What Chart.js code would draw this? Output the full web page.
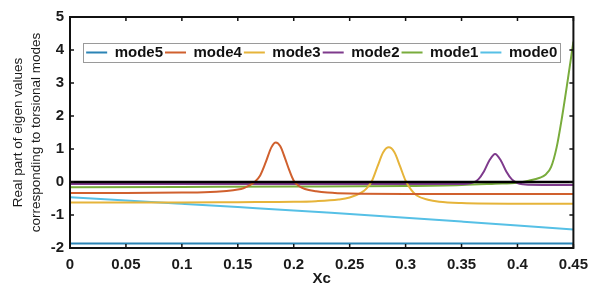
<!DOCTYPE html>
<html>
<head>
<meta charset="utf-8">
<script src="https://cdn.jsdelivr.net/npm/chart.js@4/dist/chart.umd.min.js"></script>
<style>
  html, body { margin: 0; padding: 0; background: #fff; }
  #wrap { width: 596px; height: 283px; }
</style>
</head>
<body>
<div id="wrap"><canvas id="canvasModes"></canvas></div>
<script>
// axis ticks
const xTicks = [0, 0.05, 0.1, 0.15, 0.2, 0.25, 0.3, 0.35, 0.4, 0.45];
const xTickLabels = ['0', '0.05', '0.1', '0.15', '0.2', '0.25', '0.3', '0.35', '0.4', '0.45'];
const yTicks = [-2, -1, 0, 1, 2, 3, 4, 5];

// series (Xc, real part)
const mode5X = [0, 0.15, 0.3, 0.45];
const mode5Y = [-1.86, -1.86, -1.86, -1.86];

const mode4X = [0, 0.05, 0.1, 0.12, 0.14, 0.15, 0.155, 0.16, 0.165, 0.17, 0.175, 0.18, 0.184, 0.188, 0.192, 0.196, 0.2, 0.205, 0.21, 0.22, 0.23, 0.25, 0.3, 0.35, 0.4, 0.45];
const mode4Y = [-0.33, -0.33, -0.32, -0.31, -0.27, -0.23, -0.19, -0.11, 0.0, 0.2, 0.6, 1.05, 1.2, 1.08, 0.74, 0.36, 0.04, -0.13, -0.21, -0.28, -0.32, -0.35, -0.36, -0.36, -0.36, -0.36];

const mode3X = [0, 0.1, 0.15, 0.2, 0.22, 0.24, 0.25, 0.26, 0.265, 0.27, 0.275, 0.28, 0.285, 0.29, 0.295, 0.3, 0.305, 0.31, 0.32, 0.33, 0.35, 0.4, 0.45];
const mode3Y = [-0.62, -0.62, -0.61, -0.6, -0.58, -0.53, -0.47, -0.33, -0.2, 0.04, 0.48, 0.9, 1.05, 0.9, 0.48, 0.04, -0.24, -0.41, -0.54, -0.6, -0.64, -0.66, -0.66];

const mode2X = [0, 0.1, 0.2, 0.3, 0.34, 0.355, 0.36, 0.365, 0.37, 0.375, 0.38, 0.385, 0.39, 0.395, 0.4, 0.405, 0.41, 0.45];
const mode2Y = [-0.06, -0.06, -0.06, -0.06, -0.06, -0.05, -0.02, 0.08, 0.32, 0.66, 0.85, 0.66, 0.32, 0.08, -0.03, -0.07, -0.08, -0.09];

const mode1X = [0, 0.1, 0.2, 0.3, 0.35, 0.38, 0.4, 0.41, 0.42, 0.425, 0.43, 0.435, 0.44, 0.445, 0.45];
const mode1Y = [-0.16, -0.15, -0.14, -0.12, -0.09, -0.05, -0.02, 0.04, 0.13, 0.22, 0.45, 1.05, 2.0, 3.1, 4.25];

const mode0X = [0, 0.05, 0.1, 0.15, 0.2, 0.25, 0.3, 0.35, 0.4, 0.45];
const mode0Y = [-0.46, -0.56, -0.66, -0.76, -0.86, -0.97, -1.08, -1.2, -1.32, -1.44];

const zeroX = [0, 0.45];
const zeroY = [0, 0];

const toPoints = (xs, ys) => xs.map((x, i) => ({ x: x, y: ys[i] }));

const line = (label, xs, ys, color, width) => ({
    label: label,
    data: toPoints(xs, ys),
    borderColor: color,
    backgroundColor: color,
    borderWidth: width,
    pointRadius: 0,
    cubicInterpolationMode: 'monotone',
});

// box around the plot with inward ticks, MATLAB style + legend frame
const framePlugin = {
    id: 'frame',
    afterLayout(chart) {
        // legend sits inside the axes, like the original
        const lg = chart.legend;
        lg.top = 43;
        lg.bottom = 62;
    },
    afterDraw(chart) {
        const { ctx, chartArea: a, scales } = chart;
        ctx.save();
        ctx.strokeStyle = '#111';
        ctx.lineWidth = 1.5;
        const t = 4;
        ctx.beginPath();
        scales.x.ticks.forEach(tk => {
            const px = scales.x.getPixelForValue(tk.value);
            ctx.moveTo(px, a.bottom); ctx.lineTo(px, a.bottom - t);
            ctx.moveTo(px, a.top); ctx.lineTo(px, a.top + t);
        });
        scales.y.ticks.forEach(tk => {
            const py = scales.y.getPixelForValue(tk.value);
            ctx.moveTo(a.left, py); ctx.lineTo(a.left + t, py);
            ctx.moveTo(a.right, py); ctx.lineTo(a.right - t, py);
        });
        ctx.stroke();
        ctx.lineWidth = 2;
        ctx.strokeRect(a.left, a.top, a.right - a.left, a.bottom - a.top);

        // legend frame
        const lg = chart.legend;
        const pad = lg.options.labels.padding;
        const startX = (lg.left + pad + lg.right - lg.lineWidths[0]) / 2;
        const w = lg.lineWidths[0] - pad;
        ctx.strokeStyle = '#9a9a9a';
        ctx.lineWidth = 1;
        ctx.strokeRect(Math.round(startX - 3) + 0.5, 43.5, Math.round(w + 6), 19);
        ctx.restore();
    }
};

const chartCanvas = document.getElementById('canvasModes');
const fontFamily = 'Liberation Sans, Arial, sans-serif';

const chartConfig = {
    type: 'line',
    data: {
        datasets: [
            line('zero', zeroX, zeroY, '#000000', 2.5),
            line('mode5', mode5X, mode5Y, '#2b84b5', 2),
            line('mode4', mode4X, mode4Y, '#d0602e', 2),
            line('mode3', mode3X, mode3Y, '#e6b43a', 2),
            line('mode2', mode2X, mode2Y, '#7e3a8c', 2),
            line('mode1', mode1X, mode1Y, '#79ac3c', 2),
            line('mode0', mode0X, mode0Y, '#56c0e6', 2),
        ]
    },
    options: {
        responsive: true,
        maintainAspectRatio: false,
        animation: false,
        layout: { padding: { top: 16, right: 21, left: 0, bottom: 0 } },
        scales: {
            x: {
                type: 'linear',
                min: 0,
                max: 0.45,
                grid: { display: false, drawTicks: false, tickLength: 0 },
                border: { display: false },
                afterBuildTicks: s => { s.ticks = xTicks.map(v => ({ value: v })); },
                afterFit: s => { s.height = 35; },
                ticks: {
                    padding: 8,
                    color: '#1a1a1a',
                    maxRotation: 0,
                    font: { family: fontFamily, size: 15, weight: 'bold' },
                    callback: (v, i) => xTickLabels[i],
                },
                title: {
                    display: true,
                    text: 'Xc',
                    color: '#1a1a1a',
                    padding: 0,
                    font: { family: fontFamily, size: 15, weight: 'bold', lineHeight: 0.55 },
                },
            },
            y: {
                min: -2,
                max: 5,
                grid: { display: false, drawTicks: false, tickLength: 0 },
                border: { display: false },
                afterBuildTicks: s => { s.ticks = yTicks.map(v => ({ value: v })); },
                afterFit: s => { s.width = 70; },
                ticks: {
                    padding: 6,
                    color: '#1a1a1a',
                    font: { family: fontFamily, size: 15, weight: 'bold' },
                },
                title: {
                    display: true,
                    text: ['Real part of eigen values', 'corresponding to torsional modes'],
                    color: '#1a1a1a',
                    padding: { top: 10, bottom: 0 },
                    font: { family: fontFamily, size: 13.5, lineHeight: 1.3 },
                },
            },
        },
        plugins: {
            legend: {
                position: 'top',
                fullSize: false,
                maxHeight: 1,
                labels: {
                    usePointStyle: true,
                    pointStyle: 'line',
                    pointStyleWidth: 21,
                    padding: 2,
                    color: '#111',
                    font: { family: fontFamily, size: 15, weight: 'bold' },
                    filter: item => item.text !== 'zero',
                },
            },
            tooltip: { enabled: false },
        },
    },
    plugins: [framePlugin],
};

new Chart(chartCanvas, chartConfig);
</script>
</body>
</html>
